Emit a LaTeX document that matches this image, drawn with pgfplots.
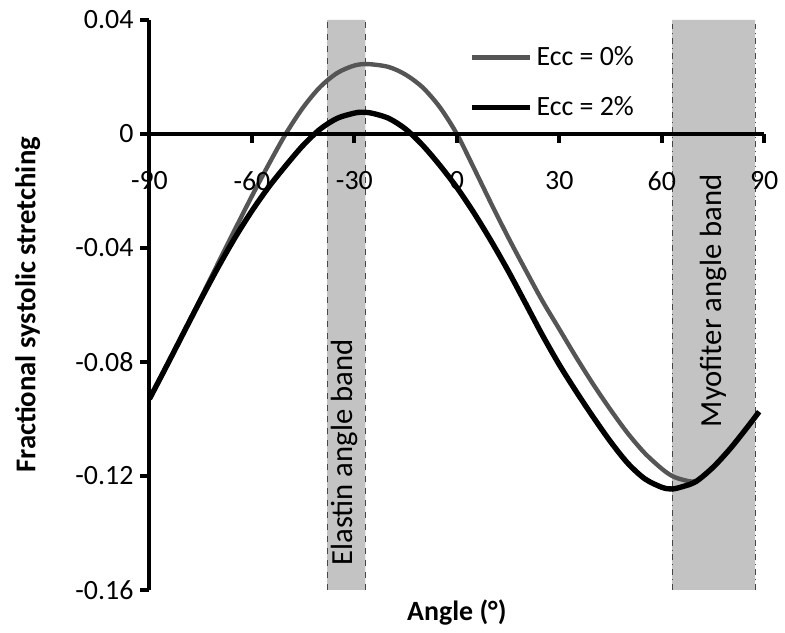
\documentclass[border=0pt]{standalone}
\usepackage{fontspec}
\setmainfont{Carlito}
\usepackage{pgfplots}
\pgfplotsset{compat=1.18}

\definecolor{bandfill}{RGB}{195,195,195}
\definecolor{bandedge}{RGB}{70,70,70}
\definecolor{ecczero}{RGB}{85,85,85}

\begin{document}
\begin{tikzpicture}[font=\fontsize{14}{17}\selectfont]
\begin{axis}[
  width=308.5pt, height=286pt, scale only axis,
  xmin=-90, xmax=90, ymin=-0.16, ymax=0.04,
  axis y line=left, axis x line=middle,
  x axis line style={line width=2pt, -},
  y axis line style={line width=2pt, -},
  axis on top,
  hide obscured x ticks=false, hide obscured y ticks=false,
  xtick={-90,-60,-30,0,30,60,90},
  ytick={-0.16,-0.12,-0.08,-0.04,0,0.04},
  tick align=outside, major tick length=4.5pt,
  tick style={black, line width=2pt},
  /pgf/number format/assume math mode=true,
  yticklabel style={/pgf/number format/fixed, /pgf/number format/precision=2},
  xticklabel style={yshift=-11pt},
  xlabel={\bfseries Angle (°)},
  ylabel={\fontsize{14.4}{17}\selectfont\bfseries Fractional systolic stretching},
  xlabel style={at={(rel axis cs:0.5,-0.04)}, anchor=center},
  ylabel style={at={(rel axis cs:-0.198,0.5)}, anchor=center},
  legend style={draw=none, fill=none, at={(rel axis cs:0.51,0.968)}, anchor=north west,
    row sep=10pt, legend cell align=left},
  legend image code/.code={\draw[#1] (0pt,0pt) -- (29pt,0pt);},
]
% shaded angle bands
\addplot[forget plot, draw=none, fill=bandfill] coordinates {(-38,-0.16) (-26.8,-0.16) (-26.8,0.04) (-38,0.04)} \closedcycle;
\addplot[forget plot, draw=none, fill=bandfill] coordinates {(63,-0.16) (87.3,-0.16) (87.3,0.04) (63,0.04)} \closedcycle;
\addplot[forget plot, bandedge, thin, dashed] coordinates {(-38,-0.16) (-38,0.04)};
\addplot[forget plot, bandedge, thin, dashed] coordinates {(-26.8,-0.16) (-26.8,0.04)};
\addplot[forget plot, bandedge, thin, dash dot] coordinates {(63,-0.16) (63,0.04)};
\addplot[forget plot, bandedge, thin, dash dot] coordinates {(87.3,-0.16) (87.3,0.04)};
\node[rotate=90, font=\fontsize{15.4}{18}\selectfont] at (axis cs:-33,-0.1118) {Elastin angle band};
\node[rotate=90, font=\fontsize{15.4}{18}\selectfont] at (axis cs:75,-0.0586) {Myofiter angle band};

\addplot[ecczero, line width=2.2pt, smooth] coordinates {
(-90,-0.0930) (-85,-0.0815) (-80,-0.0697) (-75,-0.0577) (-70,-0.0456)
(-65,-0.0336) (-60,-0.0218) (-55,-0.0105) (-50,0.0002) (-45,0.0093)
(-40,0.0165) (-35,0.0214) (-30,0.0240) (-26,0.0245) (-20,0.0235)
(-15,0.0208) (-10,0.0163) (-5,0.0094) (0,0.0000) (5,-0.0120)
(10,-0.0243) (15,-0.0362) (20,-0.0475) (25,-0.0585) (30,-0.0685)
(35,-0.0785) (40,-0.0880) (45,-0.0968) (50,-0.1050) (55,-0.1120)
(60,-0.1175) (63,-0.1200) (66,-0.1213) (70,-0.1218) (75,-0.1170)
(80,-0.1105) (85,-0.1030) (88.5,-0.0975)
};
\addlegendentry{Ecc = 0\%}
\addplot[black, line width=2.7pt, smooth] coordinates {
(-90,-0.0930) (-85,-0.0815) (-80,-0.0698) (-75,-0.0582) (-70,-0.0470)
(-65,-0.0365) (-60,-0.0270) (-55,-0.0185) (-50,-0.0110) (-45,-0.0040)
(-40,0.0017) (-35,0.0055) (-30,0.0073) (-28,0.0076) (-25,0.0073)
(-20,0.0055) (-15,0.0017) (-10,-0.0040) (-5,-0.0110) (0,-0.0188)
(5,-0.0277) (10,-0.0375) (15,-0.0480) (20,-0.0592) (25,-0.0705)
(30,-0.0810) (35,-0.0905) (40,-0.0995) (45,-0.1080) (50,-0.1155)
(55,-0.1210) (60,-0.1240) (63,-0.1246) (66,-0.1238) (70,-0.1220)
(75,-0.1170) (80,-0.1105) (85,-0.1030) (88.5,-0.0975)
};
\addlegendentry{Ecc = 2\%}
\end{axis}
\path ([xshift=-75pt,yshift=-20.5pt]current axis.south west) rectangle ([xshift=9pt,yshift=10pt]current axis.north east);
\end{tikzpicture}
\end{document}
